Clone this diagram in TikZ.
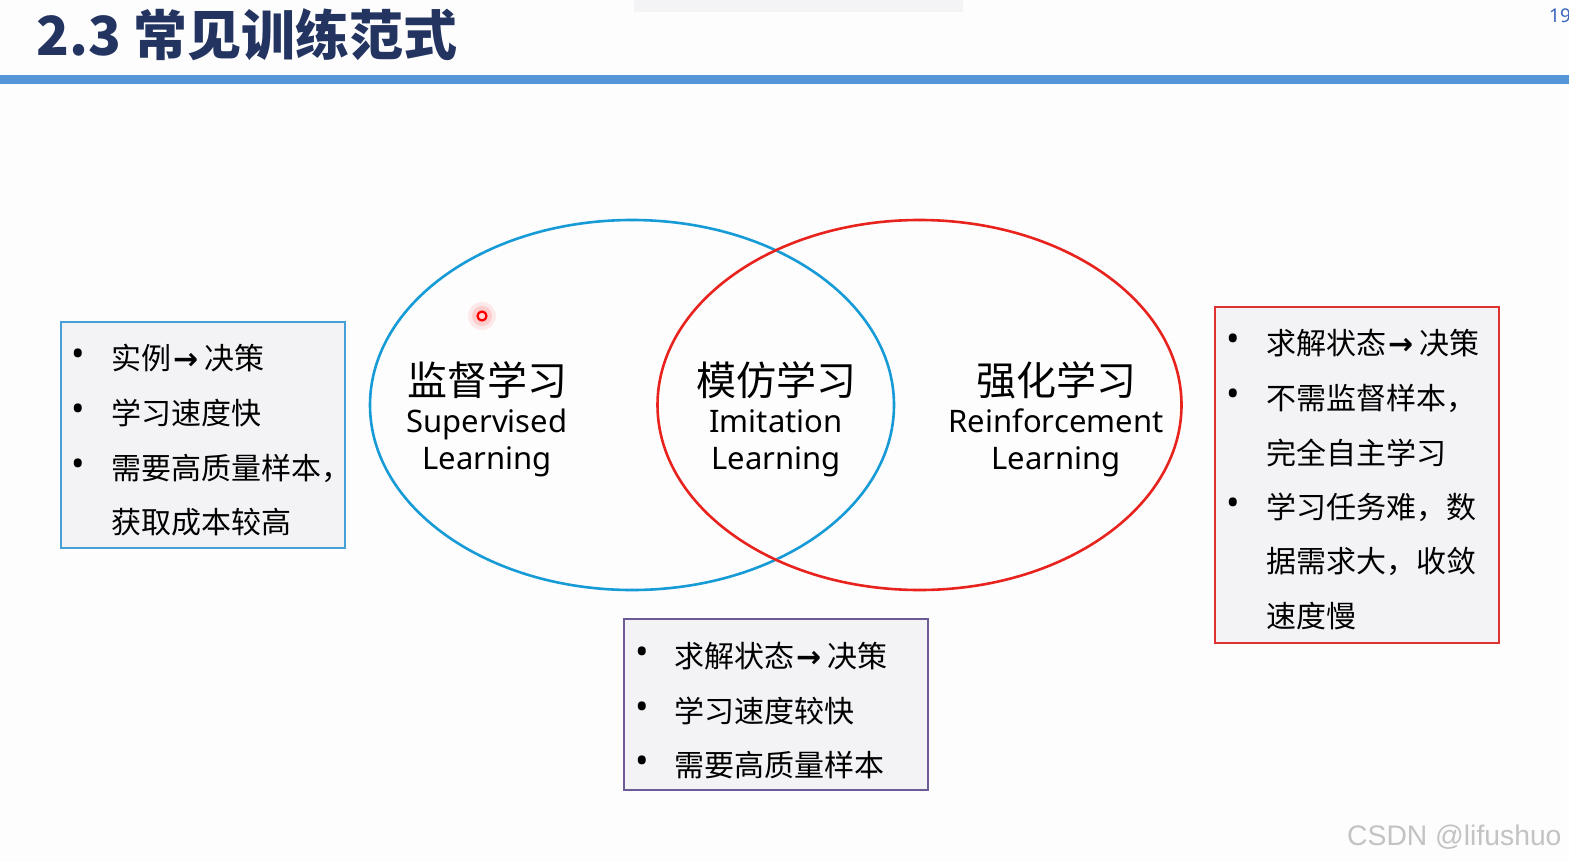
\documentclass[tikz,border=0pt]{standalone}
\usepackage{fontspec}
\setmainfont{Noto Sans}
\newfontfamily\cjk{Noto Sans CJK SC}
\newfontfamily\wmfont{Liberation Sans}
\newfontfamily\arrfont{DejaVu Sans}
\newcommand{\rarr}{{\kern2pt\arrfont\bfseries\fontsize{30}{30}\selectfont →\kern6pt}}
\usetikzlibrary{shapes.geometric}
\definecolor{titleblue}{RGB}{35,52,96}
\definecolor{barblue}{RGB}{84,150,216}
\definecolor{pageblue}{RGB}{60,100,190}
\definecolor{ellblue}{RGB}{22,155,215}
\definecolor{ellred}{RGB}{232,35,30}
\definecolor{boxblue}{RGB}{70,160,215}
\definecolor{boxpurple}{RGB}{110,90,150}
\definecolor{boxred}{RGB}{225,50,50}
\definecolor{boxfill}{RGB}{243,243,246}
\definecolor{bgcol}{RGB}{253,253,254}
\definecolor{topgray}{RGB}{244,244,246}
\definecolor{wmgray}{RGB}{195,195,195}
\tikzset{
  ell/.style={ellipse, draw, line width=2.6pt, minimum width=524pt, minimum height=370pt, inner sep=0pt, outer sep=0pt},
  infobox/.style={rectangle, draw, line width=1.3pt, fill=boxfill, inner sep=0pt, outer sep=0pt, anchor=north west},
  ln/.style={anchor=base west, inner sep=0pt, font=\cjk\fontsize{30}{30}\selectfont},
  bul/.style={anchor=center, inner sep=0pt, font=\fontsize{36}{36}\selectfont},
  cnlab/.style={anchor=base, inner sep=0pt, font=\cjk\fontsize{40}{40}\selectfont},
  enlab/.style={anchor=base, inner sep=0pt, font=\fontsize{31}{31}\selectfont},
}
\begin{document}
\begin{tikzpicture}[x=1pt,y=-1pt]
\useasboundingbox (0,0) rectangle (1569,862);
\fill[bgcol] (0,0) rectangle (1569,862);
% top decoration
\fill[topgray] (634,0) rectangle (963,12);
\node[anchor=base west, inner sep=0pt, text=titleblue, font=\cjk\bfseries\fontsize{54}{54}\selectfont] (title) at (36,55) {2.3 常见训练范式};
\node[anchor=base west, inner sep=0pt, text=pageblue, font=\bfseries\fontsize{19}{19}\selectfont] (page) at (1549,22) {19};
\fill[barblue] (0,75) rectangle (1569,84);
% ellipses
\node[ell, draw=ellblue] (sl) at (632,405) {};
\node[ell, draw=ellred] (rl) at (919.5,405) {};
% labels
\node[cnlab] (slcn) at (487,395) {监督学习};
\node[enlab] (slen) at (487,432) {Supervised};
\node[enlab] (slen2) at (487,469) {Learning};
\node[cnlab] (ilcn) at (776,395) {模仿学习};
\node[enlab] (ilen) at (776,432) {Imitation};
\node[enlab] (ilen2) at (776,469) {Learning};
\node[cnlab] (rlcn) at (1056,395) {强化学习};
\node[enlab] (rlen) at (1056,432) {Reinforcement};
\node[enlab] (rlen2) at (1056,469) {Learning};
% cursor dot
\fill[red, opacity=0.08] (482,316) circle (14);
\fill[red, opacity=0.12] (482,316) circle (10);
\draw[red, line width=2.2pt, fill=red!15] (482,316) circle (4.5);
% left box
\node[infobox, draw=boxblue, minimum width=284pt, minimum height=226pt] (lbox) at (61,322) {};
\node[bul] (lb1) at (78,358) {•};
\node[ln] (lt1) at (111,369) {实例\rarr 决策};
\node[bul] (lb2) at (78,413) {•};
\node[ln] (lt2) at (111,424) {学习速度快};
\node[bul] (lb3) at (78,468) {•};
\node[ln] (lt3) at (111,479) {需要高质量样本，};
\node[ln] (lt4) at (111,533) {获取成本较高};
% middle box
\node[infobox, draw=boxpurple, minimum width=304pt, minimum height=171pt] (mbox) at (624,619) {};
\node[bul] (mb1) at (642,656) {•};
\node[ln] (mt1) at (674,667) {求解状态\rarr 决策};
\node[bul] (mb2) at (642,711) {•};
\node[ln] (mt2) at (674,722) {学习速度较快};
\node[bul] (mb3) at (642,765) {•};
\node[ln] (mt3) at (674,776) {需要高质量样本};
% right box
\node[infobox, draw=boxred, minimum width=284pt, minimum height=336pt] (rbox) at (1215,307) {};
\node[bul] (rb1) at (1233,343) {•};
\node[ln] (rt1) at (1266,354) {求解状态\rarr 决策};
\node[bul] (rb2) at (1233,398) {•};
\node[ln] (rt2) at (1266,409) {不需监督样本，};
\node[ln] (rt3) at (1266,464) {完全自主学习};
\node[bul] (rb3) at (1233,507) {•};
\node[ln] (rt4) at (1266,518) {学习任务难，数};
\node[ln] (rt5) at (1266,572) {据需求大，收敛};
\node[ln] (rt6) at (1266,627) {速度慢};
% watermark
\node[anchor=base west, inner sep=0pt, text=wmgray, font=\wmfont\fontsize{28.3}{28.3}\selectfont] (wm) at (1347,845) {CSDN @lifushuo};
\end{tikzpicture}
\end{document}
